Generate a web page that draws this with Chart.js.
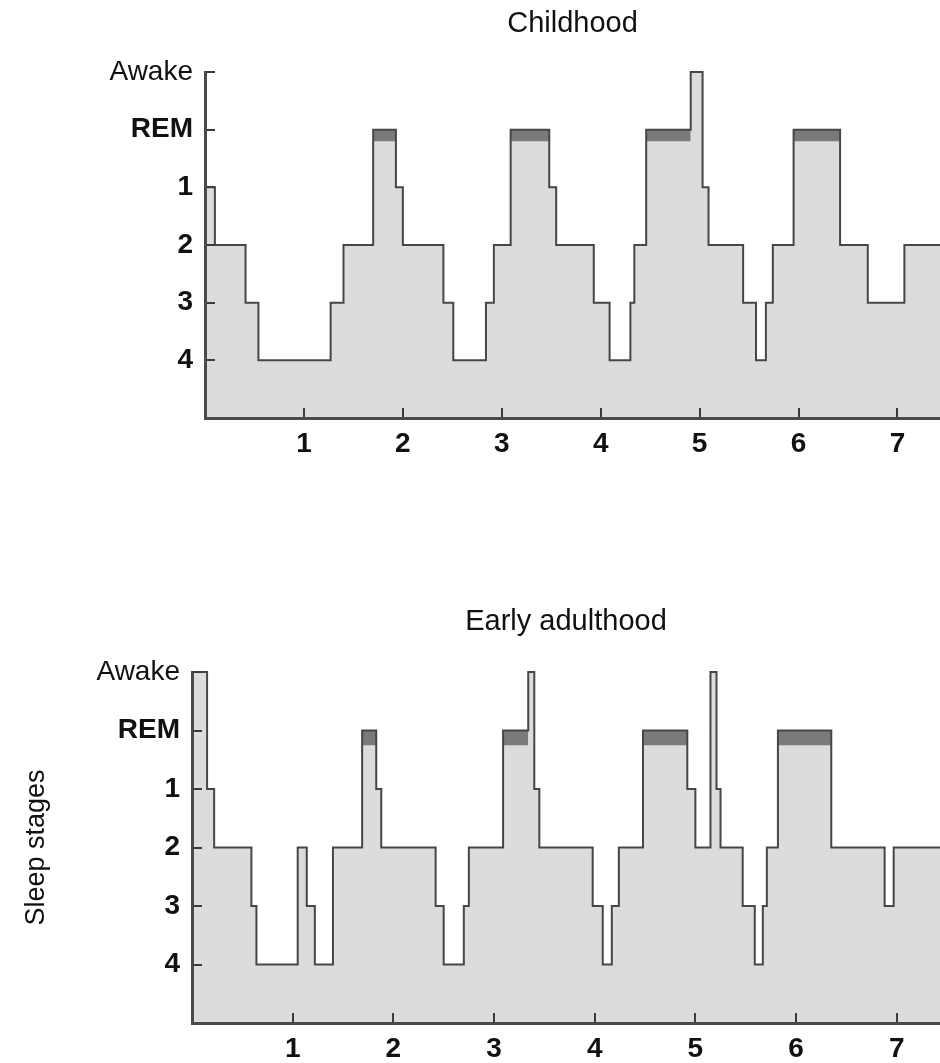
<!DOCTYPE html>
<html><head><meta charset="utf-8">
<script src="https://cdn.jsdelivr.net/npm/chart.js@4.4.0/dist/chart.umd.min.js"></script>
<style>
html,body{margin:0;padding:0;background:#fff;overflow:hidden;width:940px;height:1063px;}
#w1{position:absolute;left:0;top:0;width:940px;height:531px;}
#w2{position:absolute;left:0;top:531px;width:940px;height:532px;}
</style></head><body>
<div id="w1"><canvas id="c1"></canvas></div>
<div id="w2"><canvas id="c2"></canvas></div>
<script>
// y levels 1..6 from bottom to top
const stageLabels = ['4', '3', '2', '1', 'REM', 'Awake'];
const hourTicks = [1, 2, 3, 4, 5, 6, 7];

const childTimes  = [0, 0.10, 0.41, 0.54, 1.27, 1.40, 1.70, 1.93, 2.00, 2.41, 2.51, 2.84, 2.92, 3.09, 3.48, 3.55, 3.93, 4.09, 4.30, 4.34, 4.46, 4.91, 5.03, 5.09, 5.44, 5.57, 5.67, 5.74, 5.95, 6.42, 6.70, 7.07, 7.43];
const childStages = ['1','2','3','4','3','2','REM','1','2','3','4','3','2','REM','1','2','3','4','3','2','REM','Awake','1','2','3','4','3','2','REM','2','3','2','2'];
const childRemStart = [1.70, 3.09, 4.46, 5.95];
const childRemEnd   = [1.93, 3.48, 4.91, 6.42];

const adultTimes  = [0, 0.15, 0.22, 0.59, 0.64, 1.05, 1.14, 1.22, 1.40, 1.69, 1.83, 1.88, 2.42, 2.50, 2.70, 2.75, 3.09, 3.34, 3.40, 3.45, 3.98, 4.08, 4.17, 4.24, 4.48, 4.92, 5.00, 5.15, 5.21, 5.25, 5.47, 5.59, 5.67, 5.71, 5.82, 6.35, 6.88, 6.97, 7.43];
const adultStages = ['Awake','1','2','3','4','2','3','4','2','REM','1','2','3','4','3','2','REM','Awake','1','2','3','4','3','2','REM','1','2','Awake','1','2','3','4','3','2','REM','2','3','2','2'];
const adultRemStart = [1.69, 3.09, 4.48, 5.82];
const adultRemEnd   = [1.83, 3.34, 4.92, 6.35];

const FONT = "'Liberation Sans', Arial, Helvetica, sans-serif";
const level = s => stageLabels.indexOf(s) + 1;

function makeChart(id, cfg) {
  const remSets = cfg.remStart.map((a, i) => ({
    data: [{x: a, y: level('REM')}, {x: cfg.remEnd[i], y: level('REM')}],
    borderWidth: 0, pointRadius: 0,
    backgroundColor: '#7a7a7a',
    fill: {value: level('REM') - cfg.remDepth},
    clip: 6
  }));
  const hyp = {
    data: cfg.times.map((t, i) => ({x: t, y: level(cfg.stages[i])})),
    stepped: true, pointRadius: 0, borderWidth: 2,
    borderColor: '#464646', backgroundColor: '#dcdcdc',
    fill: 'origin', clip: 6
  };
  return new Chart(document.getElementById(id), {
    type: 'line',
    data: {datasets: [...remSets, hyp]},
    options: {
      responsive: true, maintainAspectRatio: false, animation: false,
      devicePixelRatio: 1,
      layout: {padding: 0},
      plugins: {
        legend: {display: false}, tooltip: {enabled: false},
        filler: {drawTime: 'beforeDatasetsDraw'},
        title: {display: true, text: cfg.title, fullSize: false, color: '#111',
                font: {family: FONT, size: 29, weight: 'normal'},
                padding: {top: cfg.titleTop, bottom: cfg.areaTop - cfg.titleTop - 34.8}}
      },
      scales: {
        x: {
          type: 'linear', min: 0, max: 7.43,
          afterBuildTicks: s => { s.ticks = hourTicks.map(v => ({value: v})); },
          afterFit: s => { s.height = cfg.xHeight; },
          ticks: {color: '#111', padding: 19, maxRotation: 0, autoSkip: false,
                  font: {family: FONT, size: 28, weight: 'bold'},
                  callback: v => String(v)},
          grid: {drawOnChartArea: false, tickLength: -10, color: '#3a3a3a', lineWidth: 2, z: 1},
          border: {color: '#4a4a4a', width: 3, z: 1}
        },
        y: {
          type: 'linear', min: 0, max: 6,
          afterBuildTicks: s => { s.ticks = stageLabels.map((_, i) => ({value: i + 1})); },
          afterFit: s => { s.width = cfg.left; },
          ticks: {color: '#111', padding: 22,
                  font: ctx => ({family: FONT, size: 28,
                    weight: (ctx.tick && Math.round(ctx.tick.value) === 6) ? 'normal' : 'bold'}),
                  callback: v => stageLabels[Math.round(v) - 1]},
          grid: {drawOnChartArea: false, tickLength: -10, color: '#3a3a3a', lineWidth: 2, z: 1},
          border: {color: '#4a4a4a', width: 3, z: 1},
          title: {display: !!cfg.yTitle, text: cfg.yTitle || '', color: '#111',
                  font: {family: FONT, size: 27, weight: 'normal'},
                  padding: {top: 20, bottom: 0}}
        }
      }
    }
  });
}

makeChart('c1', {title: 'Childhood', times: childTimes, stages: childStages,
  remStart: childRemStart, remEnd: childRemEnd, remDepth: 0.2,
  left: 205, areaTop: 72, titleTop: 7, xHeight: 113});
makeChart('c2', {title: 'Early adulthood', times: adultTimes, stages: adultStages,
  remStart: adultRemStart, remEnd: adultRemEnd, remDepth: 0.25,
  left: 192, areaTop: 141, titleTop: 74, xHeight: 40, yTitle: 'Sleep stages'});
</script>
</body></html>
